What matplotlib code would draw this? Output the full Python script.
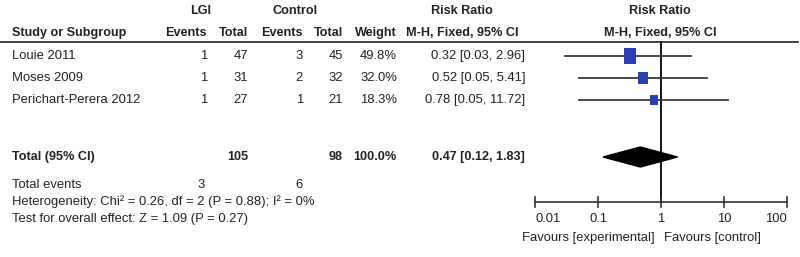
import matplotlib
matplotlib.use("Agg")
import matplotlib.pyplot as plt
import numpy as np

studies = ["Louie 2011", "Moses 2009", "Perichart-Perera 2012"]
lgi_events = [1, 1, 1]
lgi_total = [47, 31, 27]
ctl_events = [3, 2, 1]
ctl_total = [45, 32, 21]
weights = [49.8, 32.0, 18.3]
rr = [0.32, 0.52, 0.78]
rr_lo = [0.03, 0.05, 0.05]
rr_hi = [2.96, 5.41, 11.72]
pooled = [0.47, 0.12, 1.83]
total_lgi, total_ctl = 105, 98
events_lgi, events_ctl = 3, 6
tick_vals = [0.01, 0.1, 1, 10, 100]
tick_labels = ["0.01", "0.1", "1", "10", "100"]

plt.rcParams['font.family'] = ['Liberation Sans', 'DejaVu Sans']
FS = 9.4
FSB = 9.1
TXT = "#222222"

fig = plt.figure(figsize=(8, 2.57), dpi=100)
ax = fig.add_axes([0, 0, 1, 1])
ax.set_xlim(0, 800); ax.set_ylim(257, 0); ax.axis('off')

fx0, fx1 = 535, 787
axf = fig.add_axes([fx0 / 800, 0, (fx1 - fx0) / 800, 1])
axf.set_xscale('log'); axf.set_xlim(0.01, 100); axf.set_ylim(257, 0); axf.axis('off')

def t(x, y, s, ha='right', bold=False):
    ax.text(x, y, s, ha=ha, va='center', fontsize=FSB if bold else FS, color=TXT,
            fontweight='bold' if bold else 'normal')

# headers
t(201, 11, "LGI", ha='center', bold=True)
t(295, 11, "Control", ha='center', bold=True)
t(462, 11, "Risk Ratio", ha='center', bold=True)
t(660, 11, "Risk Ratio", ha='center', bold=True)
t(12, 33, "Study or Subgroup", ha='left', bold=True)
cx = [207, 248, 303, 343, 397]
for x, s in zip(cx, ["Events", "Total", "Events", "Total", "Weight"]):
    t(x, 33, s, bold=True)
t(462, 33, "M-H, Fixed, 95% CI", ha='center', bold=True)
t(660, 33, "M-H, Fixed, 95% CI", ha='center', bold=True)
ax.plot([0, 798], [42, 42], color="#333333", lw=1.3)

sq = [(-0.72, -1), (0.72, -1), (0.72, 1), (-0.72, 1), (-0.72, -1)]
rows_y = [56, 78, 100]
for i, y in enumerate(rows_y):
    t(12, y, studies[i], ha='left')
    t(cx[0], y, str(lgi_events[i]))
    t(cx[1], y, str(lgi_total[i]))
    t(cx[2], y, str(ctl_events[i]))
    t(cx[3], y, str(ctl_total[i]))
    t(cx[4], y, f"{weights[i]:.1f}%")
    t(525, y, f"{rr[i]:.2f} [{rr_lo[i]:.2f}, {rr_hi[i]:.2f}]")
    axf.plot([rr_lo[i], rr_hi[i]], [y, y], color="#3a3a3a", lw=1.3, zorder=2)
    axf.plot([rr[i]], [y], marker=sq, ms=5 + weights[i] * 0.13,
             color="#2b3fb0", mec="#2b3fb0", mew=0, zorder=3)

ty = 157
t(12, ty, "Total (95% CI)", ha='left', bold=True)
t(cx[1], ty, str(total_lgi), bold=True)
t(cx[3], ty, str(total_ctl), bold=True)
t(cx[4], ty, "100.0%", bold=True)
t(525, ty, f"{pooled[0]:.2f} [{pooled[1]:.2f}, {pooled[2]:.2f}]", bold=True)
axf.fill([pooled[1], pooled[0], pooled[2], pooled[0]], [ty, ty - 10, ty, ty + 10],
         color="black", zorder=3)

t(12, 185, "Total events", ha='left')
t(205, 185, str(events_lgi))
t(cx[2], 185, str(events_ctl))
t(12, 202, "Heterogeneity: Chi² = 0.26, df = 2 (P = 0.88); I² = 0%", ha='left')
t(12, 219, "Test for overall effect: Z = 1.09 (P = 0.27)", ha='left')

# forest axis
axf.plot([1, 1], [42, 202], color="black", lw=1.3, zorder=1)
axf.plot([0.01, 100], [202, 202], color="#333333", lw=1.2, clip_on=False)
for i, (v, lab) in enumerate(zip(tick_vals, tick_labels)):
    axf.plot([v, v], [197, 207], color="#333333", lw=1.2, clip_on=False)
    ha = 'left' if i == 0 else ('right' if i == len(tick_vals) - 1 else 'center')
    axf.text(v, 219, lab, ha=ha, va='center', fontsize=FS, color=TXT, clip_on=False)
axf.text(0.8, 238, "Favours [experimental]", ha='right', va='center', fontsize=FS, color=TXT)
axf.text(1.1, 238, "Favours [control]", ha='left', va='center', fontsize=FS, color=TXT)

fig.savefig("out.png", dpi=100)
